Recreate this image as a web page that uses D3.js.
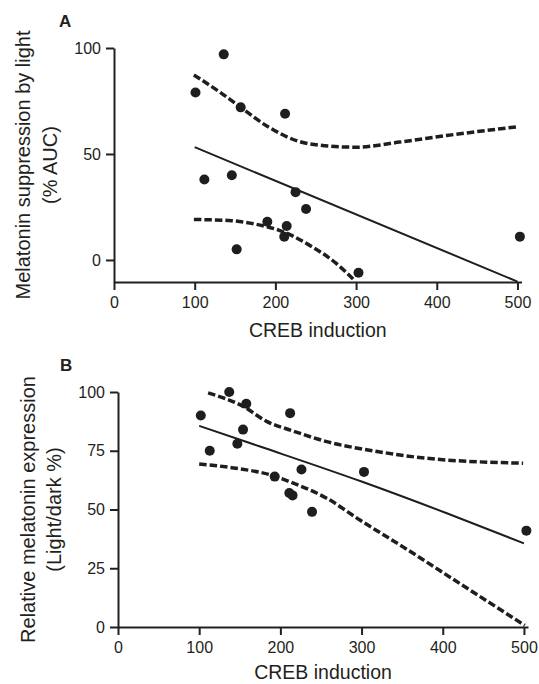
<!DOCTYPE html>
<html>
<head>
<meta charset="utf-8">
<script src="https://cdn.jsdelivr.net/npm/d3@7/dist/d3.min.js"></script>
<style>
    body { margin: 0; background: #fff; }
    svg text { font-family: "Liberation Sans", Arial, Helvetica, sans-serif; fill: #231f20; }
    .axis path, .axis line { stroke: #231f20; stroke-width: 2; }
    .axis text { font-size: 16px; }
</style>
</head>
<body>
<svg id="chart" width="539" height="684"></svg>
<script>
// ---- data ----
var xTicks = [0, 100, 200, 300, 400, 500];          //CREB induction ticks, both panels
var yTicksA = [0, 50, 100];
var yTicksB = [0, 25, 50, 75, 100];

// panel A : melatonin suppression by light (% AUC)
var crebA = [101, 112, 136, 146, 152, 157, 190, 211, 212, 214, 225, 238, 303, 503];
var suppressionA = [79, 38, 97, 40, 5, 72, 18, 11, 69, 16, 32, 24, -6, 11];
var fitAx = [100, 500];
var fitAy = [53.2, -10.2];
var upperAx = [99, 130, 157, 192, 242, 300, 354, 412, 501];
var upperAy = [87.3, 79.5, 72, 62.6, 54.8, 53.2, 55.6, 58.7, 62.9];
var lowerAx = [99, 146, 190, 204, 242, 275, 298];
var lowerAy = [19.1, 18.5, 15.6, 14.1, 7, -1.5, -9.6];

// panel B : relative melatonin expression (light/dark %)
var crebB = [102, 113, 137, 147, 154, 158, 193, 211, 212, 215, 226, 239, 303, 503];
var expressionB = [90, 75, 100, 78, 84, 95, 64, 57, 91, 56, 67, 49, 66, 41];
var fitBx = [100, 175, 300, 405, 500];
var fitBy = [85.6, 76.8, 61.9, 48.4, 35.6];
var upperBx = [111, 154, 183, 214, 257, 319, 380, 499];
var upperBy = [99.6, 93.9, 87.5, 83.6, 78.9, 74.7, 71.8, 69.7];
var lowerBx = [100, 140, 190, 216, 257, 298, 351, 421, 501];
var lowerBy = [69.4, 67.8, 64.5, 61.2, 54.8, 45.5, 34.1, 18.5, 0.7];

var ink = "#1e1e1e";
var svg = d3.select("#chart");

function zip(xs, ys) {
    return xs.map(function (v, i) { return [v, ys[i]]; });
}

function drawPanel(p) {
    var x = d3.scaleLinear().domain([0, 505]).range(p.xRange);
    var y = d3.scaleLinear().domain(p.yDomain).range(p.yRange);
    var g = svg.append("g");

    g.append("g")                                   //x axis
        .attr("class", "axis")
        .attr("transform", "translate(0," + p.yRange[0] + ")")
        .call(d3.axisBottom(x).tickValues(xTicks).tickSizeInner(8).tickSizeOuter(0).tickPadding(7));

    g.append("g")                                   //y axis
        .attr("class", "axis")
        .attr("transform", "translate(" + p.xRange[0] + ",0)")
        .call(d3.axisLeft(y).tickValues(p.yTicks).tickSizeInner(8).tickSizeOuter(0).tickPadding(5));

    var line = d3.line()
        .x(function (d) { return x(d[0]); })
        .y(function (d) { return y(d[1]); })
        .curve(d3.curveMonotoneX);

    g.append("path")                                //regression line
        .datum(zip(p.fitX, p.fitY))
        .attr("d", line)
        .attr("fill", "none")
        .attr("stroke", ink)
        .attr("stroke-width", 2);

    [zip(p.upX, p.upY), zip(p.loX, p.loY)].forEach(function (band) {     //95% bands
        g.append("path")
            .datum(band)
            .attr("d", line)
            .attr("fill", "none")
            .attr("stroke", ink)
            .attr("stroke-width", 3.5)
            .attr("stroke-dasharray", "7.5,3");
    });

    g.selectAll("circle.dot")
        .data(zip(p.px, p.py))
        .enter().append("circle")
        .attr("class", "dot")
        .attr("cx", function (d) { return x(d[0]); })
        .attr("cy", function (d) { return y(d[1]); })
        .attr("r", 5)
        .attr("fill", ink);

    g.append("text")                                //x label
        .attr("x", (p.xRange[0] + p.xRange[1]) / 2)
        .attr("y", p.xLabelY)
        .attr("text-anchor", "middle")
        .style("font-size", "19.5px")
        .text("CREB induction");

    var cy = (p.yRange[0] + p.yRange[1]) / 2;
    p.yLabel.forEach(function (t, i) {              //y label, two lines
        g.append("text")
            .attr("transform", "translate(" + p.yLabelX[i] + "," + cy + ") rotate(-90)")
            .attr("text-anchor", "middle")
            .style("font-size", "20px")
            .text(t);
    });

    g.append("text")                                //panel letter
        .attr("x", p.letterPos[0])
        .attr("y", p.letterPos[1])
        .style("font-size", "17px")
        .style("font-weight", "bold")
        .text(p.letter);
}

drawPanel({
    letter: "A", letterPos: [59, 27],
    xRange: [114, 521.5], yDomain: [-10.4, 100], yRange: [282, 48], yTicks: yTicksA,
    px: crebA, py: suppressionA,
    fitX: fitAx, fitY: fitAy, upX: upperAx, upY: upperAy, loX: lowerAx, loY: lowerAy,
    yLabel: ["Melatonin suppression by light", "(% AUC)"], yLabelX: [30, 57],
    xLabelY: 337
});

drawPanel({
    letter: "B", letterPos: [60, 371],
    xRange: [118, 528], yDomain: [0, 100], yRange: [627, 392], yTicks: yTicksB,
    px: crebB, py: expressionB,
    fitX: fitBx, fitY: fitBy, upX: upperBx, upY: upperBy, loX: lowerBx, loY: lowerBy,
    yLabel: ["Relative melatonin expression", "(Light/dark %)"], yLabelX: [35, 61],
    xLabelY: 679
});
</script>
</body>
</html>
